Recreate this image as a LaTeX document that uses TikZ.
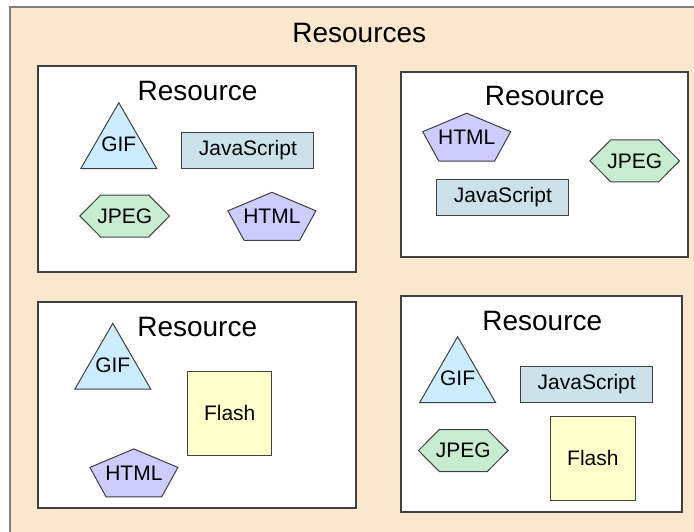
\documentclass[tikz,border=0pt]{standalone}
\usepackage{fontspec}
\setmainfont{Liberation Sans}
\usepackage{tikz}

\definecolor{pagefill}{RGB}{249,231,206}
\definecolor{framegray}{RGB}{128,128,128}
\definecolor{giffill}{RGB}{204,236,255}
\definecolor{jsfill}{RGB}{204,226,234}
\definecolor{jpegfill}{RGB}{200,236,208}
\definecolor{htmlfill}{RGB}{204,204,255}
\definecolor{flashfill}{RGB}{255,255,204}

\tikzstyle{resbox} = [rectangle, draw=black!75, line width=0.6pt, fill=white]
\tikzstyle{restitle} = [anchor=base, inner sep=0pt, font=\fontsize{14}{16}\selectfont]
\tikzstyle{shapetext} = [inner sep=0pt, font=\fontsize{10.5}{12}\selectfont]
\tikzstyle{shapeline} = [draw=black!75, line width=0.5pt]
\tikzstyle{jsbox} = [rectangle, shapeline, fill=jsfill,
    minimum width=66pt, minimum height=18pt, inner sep=0pt, shapetext]
\tikzstyle{flashbox} = [rectangle, shapeline, fill=flashfill,
    minimum width=42.2pt, minimum height=42pt, inner sep=0pt, shapetext]

\tikzset{
  pics/gif/.style={code={
    \filldraw[shapeline, fill=giffill] (0,-43.9) -- (38,22) -- (-38,22) -- cycle;
    \node[shapetext] (-text) at (0,-2) {GIF};
  }},
  pics/jpeg/.style={code={
    \filldraw[shapeline, fill=jpegfill] (-44.8,0) -- (-24,-21) -- (24,-21)
        -- (44.8,0) -- (24,21) -- (-24,21) -- cycle;
    \node[shapetext] (-text) {JPEG};
  }},
  pics/html/.style={code={
    \filldraw[shapeline, fill=htmlfill] (0,-24) -- (44,-5.5) -- (27.8,24)
        -- (-27.8,24) -- (-44,-5.5) -- cycle;
    \node[shapetext] (-text) {HTML};
  }}
}

\begin{document}
\begin{tikzpicture}[x=0.5pt, y=-0.5pt]
    \useasboundingbox[fill=white] (0,0) rectangle (694,531);
    % outer frame
    \filldraw[fill=pagefill, draw=framegray, line width=1pt] (10,7) rectangle (720,560);
    \node [restitle] (Resources) at (359.3,42.3) {Resources};
    % Place boxes
    \node [resbox, minimum width=159pt, minimum height=103pt] (BoxA) at (197,169) {};
    \node [resbox, minimum width=143.5pt, minimum height=92.5pt] (BoxB) at (544.5,164.5) {};
    \node [resbox, minimum width=159pt, minimum height=103pt] (BoxC) at (197,405) {};
    \node [resbox, minimum width=140.5pt, minimum height=108pt] (BoxD) at (541.5,404) {};
    % first resource
    \node [restitle] (TitleA) at (197.5,100.7) {Resource};
    \pic (GifA) at (118.8,146.6) {gif};
    \node [jsbox] (JsA) at (247.9,150.3) {JavaScript};
    \pic (JpegA) at (124.7,216) {jpeg};
    \pic (HtmlA) at (271.9,216.3) {html};
    % second resource
    \node [restitle] (TitleB) at (544.7,105.7) {Resource};
    \pic (HtmlB) at (466.7,137.2) {html};
    \pic (JpegB) at (634.7,160.8) {jpeg};
    \node [jsbox] (JsB) at (502.9,197) {JavaScript};
    % third resource
    \node [restitle] (TitleC) at (197.2,336.7) {Resource};
    \pic (GifC) at (112.8,367.2) {gif};
    \node [flashbox] (FlashC) at (229.7,413) {Flash};
    \pic (HtmlC) at (133.9,472.9) {html};
    % fourth resource
    \node [restitle] (TitleD) at (542.3,330.7) {Resource};
    \pic (GifD) at (457.6,380.6) {gif};
    \node [jsbox] (JsD) at (586.7,384.5) {JavaScript};
    \pic (JpegD) at (463.3,450.5) {jpeg};
    \node [flashbox] (FlashD) at (592.9,458) {Flash};
\end{tikzpicture}
\end{document}
